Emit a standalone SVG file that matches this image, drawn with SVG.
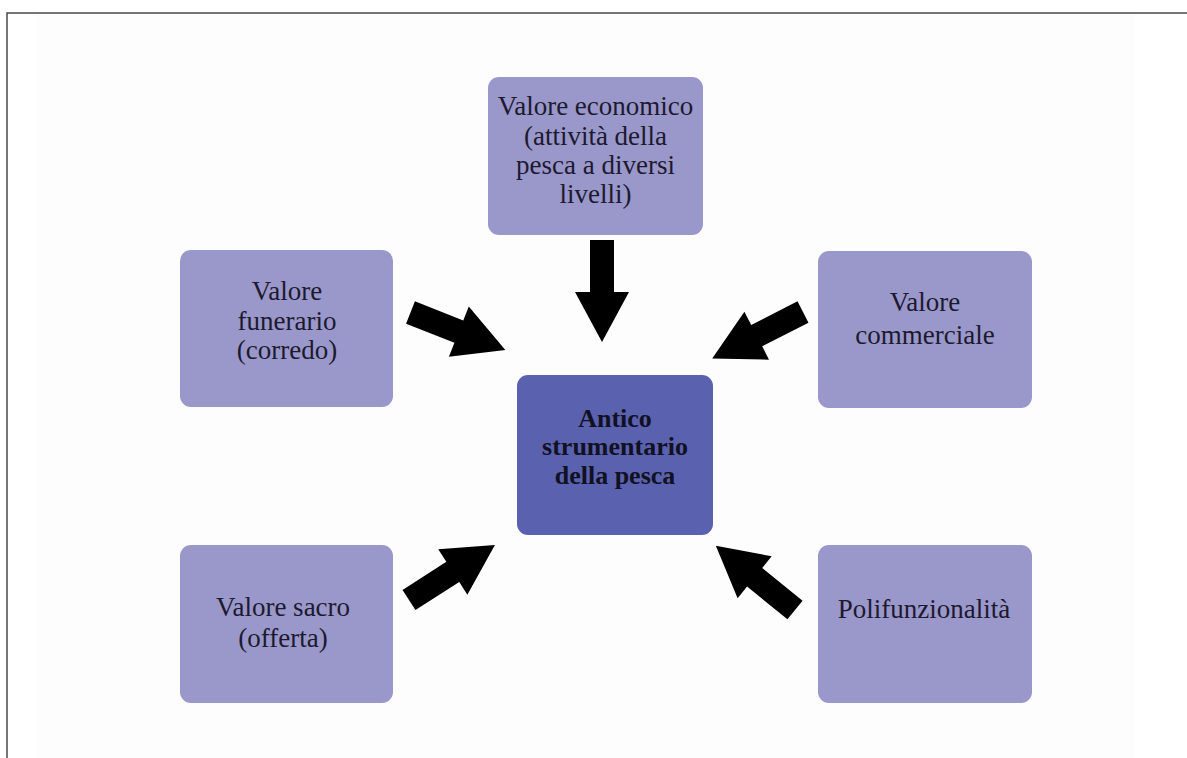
<svg xmlns="http://www.w3.org/2000/svg" xmlns:xlink="http://www.w3.org/1999/xlink" width="1187" height="758" viewBox="0 0 1187 758">
  <style>
    .node { fill: #9a97cb; }
    .center { fill: #5a62b0; }
    .lbl { font-family: "Liberation Serif", "Times New Roman", serif; font-size: 27px; fill: #1c1a2e; text-anchor: middle; }
    .lblb { font-family: "Liberation Serif", "Times New Roman", serif; font-size: 26px; font-weight: bold; fill: #111122; text-anchor: middle; }
    .arrow { fill: #000000; }
  </style>
  <defs>
    <path id="arr" d="M0,-12 L52,-12 L52,-27 L102,0 L52,27 L52,12 L0,12 Z"/>
  </defs>
  <rect x="0" y="0" width="1187" height="758" fill="#ffffff"/>
  <rect x="35" y="14" width="1100" height="744" fill="#fdfdfd"/>
  <path d="M7,758 L7,13 L1187,13" fill="none" stroke="#4a4a4a" stroke-width="1.5"/>

  <g id="connectors" class="arrow">
    <use xlink:href="#arr" transform="translate(602,240) rotate(90)"/>
    <use xlink:href="#arr" transform="translate(410.5,312.5) rotate(21.6)"/>
    <use xlink:href="#arr" transform="translate(803,312) rotate(152.9)"/>
    <use xlink:href="#arr" transform="translate(409,600) rotate(-32.6)"/>
    <use xlink:href="#arr" transform="translate(795,610) rotate(-140.9)"/>
  </g>

  <g id="node-economico">
    <rect class="node" x="488" y="77" width="215" height="158" rx="11"/>
    <text class="lbl" x="595.5" y="115">Valore economico</text>
    <text class="lbl" x="595.5" y="145">(attività della</text>
    <text class="lbl" x="595.5" y="174">pesca a diversi</text>
    <text class="lbl" x="595.5" y="203">livelli)</text>
  </g>

  <g id="node-funerario">
    <rect class="node" x="180" y="250" width="213" height="157" rx="11"/>
    <text class="lbl" x="287" y="300">Valore</text>
    <text class="lbl" x="287" y="330">funerario</text>
    <text class="lbl" x="287" y="359">(corredo)</text>
  </g>

  <g id="node-commerciale">
    <rect class="node" x="818" y="251" width="214" height="157" rx="11"/>
    <text class="lbl" x="925" y="311">Valore</text>
    <text class="lbl" x="925" y="344">commerciale</text>
  </g>

  <g id="node-centro">
    <rect class="center" x="517" y="375" width="196" height="160" rx="11"/>
    <text class="lblb" x="615" y="427">Antico</text>
    <text class="lblb" x="615" y="455">strumentario</text>
    <text class="lblb" x="615" y="484">della pesca</text>
  </g>

  <g id="node-sacro">
    <rect class="node" x="180" y="545" width="213" height="158" rx="11"/>
    <text class="lbl" x="283" y="616">Valore sacro</text>
    <text class="lbl" x="283" y="647">(offerta)</text>
  </g>

  <g id="node-polifunzionalita">
    <rect class="node" x="818" y="545" width="214" height="158" rx="11"/>
    <text class="lbl" x="924" y="618">Polifunzionalità</text>
  </g>
</svg>
